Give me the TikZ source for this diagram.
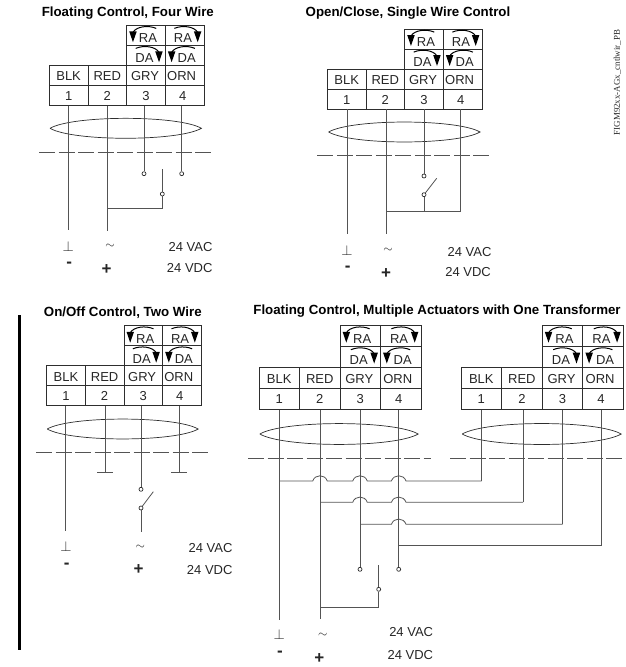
\documentclass[tikz,border=0pt]{standalone}
\usepackage{fontspec}
\setmainfont{Liberation Sans}
\newfontfamily\figfont{Liberation Serif}
\definecolor{wirecol}{gray}{0.33}
\definecolor{boxcol}{gray}{0.18}
\definecolor{inkcol}{gray}{0.15}
\tikzset{
	cellbox/.style={draw=boxcol,line width=0.8pt,inner sep=0pt,text=inkcol,font=\fontsize{13}{13}\selectfont},
	cable/.style={inner sep=0pt},
	cableline/.style={draw=boxcol,line width=0.7pt},
	cableup/.style={out=30,in=150,looseness=.45},
	cabledn/.style={out=-150,in=-30,looseness=.45},
	wire/.style={draw=wirecol,line width=0.8pt},
	sepline/.style={draw=wirecol,line width=0.8pt,dash pattern=on 16pt off 3.5pt},
	contact/.style={draw=boxcol,circle,fill=white,line width=0.7pt,inner sep=0pt,minimum size=4pt},
	headtxt/.style={font=\fontsize{13.3}{14}\selectfont\bfseries,text=black,inner sep=0pt},
	signtxt/.style={font=\fontsize{13}{13}\selectfont,text=inkcol,inner sep=0pt},
	gndtxt/.style={font=\fontsize{15}{15}\selectfont,text=inkcol,inner sep=0pt},
	poltxt/.style={font=\fontsize{17}{17}\selectfont\bfseries,text=inkcol,inner sep=0pt},
	ratxt/.style={signtxt,anchor=east},
}
\newcommand{\celltxt}[3]{\smash{\lower#2pt\hbox to 0pt{\hss\hskip#1pt\relax #3\hskip-#1pt\hss}}}
\newcommand{\flowicon}[2]{
	\begin{scope}[shift={(#1)},xscale=#2]
		\fill[black] (3,6.5)--(10.5,6.5)--(6.7,17.3)--cycle;
		\draw[black,line width=1pt] (6.7,7.5) .. controls (10,1.5) and (22,0) .. (30,3.5);
	\end{scope}
}
\newcommand{\wireblock}[5]{
	\foreach \col/\dx/\txt in {1/0/BLK,2/0/RED,3/-1/GRY,4/-3/ORN}
		\node[cellbox,minimum width=#4pt,minimum height=#5pt] (#1n\col) at ({#2+(\col-.5)*#4},{#3+2.5*#5}) {\celltxt{\dx}{5.5}{\txt}};
	\foreach \col/\dx/\txt in {1/0/1,2/0/2,3/0/3,4/-2/4}
		\node[cellbox,minimum width=#4pt,minimum height=#5pt] (#1\col) at ({#2+(\col-.5)*#4},{#3+3.5*#5}) {\celltxt{\dx}{5}{\txt}};
	\node[cellbox,minimum width=#4pt,minimum height=#5pt] (#1ral) at ({#2+2.5*#4},{#3+.5*#5}) {\celltxt{2}{7.3}{RA}};
	\node[cellbox,minimum width=#4pt,minimum height=#5pt] (#1rar) at ({#2+3.5*#4},{#3+.5*#5}) {\celltxt{-1.7}{7.3}{RA}};
	\node[cellbox,minimum width=#4pt,minimum height=#5pt] (#1dal) at ({#2+2.5*#4},{#3+1.5*#5}) {\celltxt{-1.5}{7.5}{DA}};
	\node[cellbox,minimum width=#4pt,minimum height=#5pt] (#1dar) at ({#2+3.5*#4},{#3+1.5*#5}) {\celltxt{2}{7.5}{DA}};
	\flowicon{#1ral.north west}{1}
	\flowicon{#1rar.north east}{-1}
	\flowicon{#1dal.north east}{-1}
	\flowicon{#1dar.north west}{1}
}
\newcommand{\hop}[2]{-- ({#1-7.3},#2) .. controls ({#1-5},{#2-7}) and ({#1+5},{#2-7}) .. ({#1+7.3},#2)}
\begin{document}
\begin{tikzpicture}[x=1pt,y=-1pt]
	\useasboundingbox (0,0) rectangle (626,667);

	\node[headtxt] (atitle) at (127.8,12.7) {Floating Control, Four Wire};
	\wireblock{a}{49.3}{25.3}{38.67}{20}
	\node[cable,minimum width=151pt,minimum height=20pt] (acable) at (125.7,128.3) {};
	\draw[cableline] (acable.west) to[cableup] (acable.east) to[cabledn] (acable.west);
	\coordinate (asepl) at (39,152);
	\coordinate (asepr) at (212.7,152);
	\draw[sepline] (asepl)--(asepr);
	\coordinate (a1e) at (68.3,230);
	\coordinate (a2e) at (107.7,230.7);
	\node[contact] (a3c) at (144,173.7) {};
	\node[contact] (a4c) at (181.7,173.7) {};
	\node[contact] (aswc) at (162.3,194) {};
	\coordinate (aswt) at (162.3,169.3);
	\coordinate (aswb) at (162.3,208.7);
	\draw[wire] (a1.south -| a1e)--(a1e);
	\draw[wire] (a2.south -| a2e)--(a2e);
	\draw[wire] (a3.south -| a3c)--(a3c);
	\draw[wire] (a4.south -| a4c)--(a4c);
	\draw[wire] (aswt)--(aswc);
	\draw[wire] (aswc)--(aswb)--(aswb -| a2e);
	\node[gndtxt] (agnd) at (68.3,246) {$\perp$};
	\node[signtxt] (aac) at (110,246.7) {$\sim$};
	\node[poltxt] (aneg) at (69.3,265) {-};
	\node[poltxt] (apos) at (106.7,270) {+};
	\node[ratxt] (avac) at (212.7,247) {24 VAC};
	\node[ratxt] (avdc) at (212.7,268) {24 VDC};

	\node[headtxt] (btitle) at (408,12.7) {Open/Close, Single Wire Control};
	\wireblock{b}{327.3}{29}{38.67}{20}
	\node[cable,minimum width=151pt,minimum height=21pt] (bcable) at (404.3,132) {};
	\draw[cableline] (bcable.west) to[cableup] (bcable.east) to[cabledn] (bcable.west);
	\coordinate (bsepl) at (317.3,155.3);
	\coordinate (bsepr) at (491.3,155.3);
	\draw[sepline] (bsepl)--(bsepr);
	\coordinate (b1e) at (347,234);
	\coordinate (b2e) at (386,234);
	\node[contact] (b3c) at (424,176) {};
	\node[contact] (bswc) at (424,194.7) {};
	\coordinate (bswt) at (436.7,178.3);
	\coordinate (bjoin) at (424,211.7);
	\coordinate (b4e) at (460.7,211.7);
	\draw[wire] (b1.south -| b1e)--(b1e);
	\draw[wire] (b2.south -| b2e)--(b2e);
	\draw[wire] (b3.south -| b3c)--(b3c);
	\draw[wire] (b4.south -| b4e)--(b4e)--(b4e -| b2e);
	\draw[wire] (bswc)--(bswt);
	\draw[wire] (bswc)--(bjoin);
	\node[gndtxt] (bgnd) at (347,250) {$\perp$};
	\node[signtxt] (bac) at (388,250.7) {$\sim$};
	\node[poltxt] (bneg) at (347.7,269) {-};
	\node[poltxt] (bpos) at (386,273.3) {+};
	\node[ratxt] (bvac) at (491.7,251.7) {24 VAC};
	\node[ratxt] (bvdc) at (491,272.3) {24 VDC};

	\node[headtxt] (ctitle) at (122.8,312.7) {On/Off Control, Two Wire};
	\wireblock{c}{46.7}{325.7}{38.6}{20}
	\node[cable,minimum width=150.6pt,minimum height=20pt] (ccable) at (122.7,429) {};
	\draw[cableline] (ccable.west) to[cableup] (ccable.east) to[cabledn] (ccable.west);
	\coordinate (csepl) at (36,452);
	\coordinate (csepr) at (210,452);
	\draw[sepline] (csepl)--(csepr);
	\coordinate (c1e) at (65.7,530.7);
	\coordinate (c2e) at (105,472.7);
	\coordinate (c4e) at (179,472.7);
	\node[contact] (c3c) at (141,489.3) {};
	\node[contact] (cswc) at (141,508) {};
	\coordinate (cswt) at (153.3,491.7);
	\coordinate (c3e) at (141,531.7);
	\draw[wire] (c1.south -| c1e)--(c1e);
	\draw[wire] (c2.south -| c2e)--(c2e);
	\draw[wire] (c4.south -| c4e)--(c4e);
	\draw[wire] (c3.south -| c3c)--(c3c);
	\draw[wire] ([xshift=-7.7pt]c2e)--([xshift=7.7pt]c2e);
	\draw[wire] ([xshift=-7.7pt]c4e)--([xshift=7.7pt]c4e);
	\draw[wire] (cswc)--(cswt);
	\draw[wire] (cswc)--(c3e);
	\node[gndtxt] (cgnd) at (66,546.6) {$\perp$};
	\node[signtxt] (cac) at (140.3,547.3) {$\sim$};
	\node[poltxt] (cneg) at (66.7,565.7) {-};
	\node[poltxt] (cpos) at (138.7,570) {+};
	\node[ratxt] (cvac) at (232.7,547.7) {24 VAC};
	\node[ratxt] (cvdc) at (232.7,570) {24 VDC};

	\node[headtxt] (dtitle) at (437,310.7) {Floating Control, Multiple Actuators with One Transformer};
	\wireblock{d}{259}{325.7}{40.5}{20.9}
	\wireblock{e}{461}{325.7}{40.6}{20.9}
	\node[cable,minimum width=158pt,minimum height=21pt] (dcable) at (339,434) {};
	\node[cable,minimum width=158.6pt,minimum height=21pt] (ecable) at (541.7,434) {};
	\draw[cableline] (dcable.west) to[cableup] (dcable.east) to[cabledn] (dcable.west);
	\draw[cableline] (ecable.west) to[cableup] (ecable.east) to[cabledn] (ecable.west);
	\coordinate (dsepl) at (248,458.7);
	\coordinate (dsepr) at (431.3,458.7);
	\coordinate (esepl) at (450,458.7);
	\coordinate (esepr) at (626,458.7);
	\draw[sepline] (dsepl)--(dsepr);
	\draw[sepline] (esepl)--(esepr);
	\coordinate (d1e) at (279.3,620);
	\coordinate (d2e) at (320,619);
	\node[contact] (d3c) at (360,569.3) {};
	\node[contact] (d4c) at (398.7,569.3) {};
	\node[contact] (dswc) at (378.7,589.3) {};
	\coordinate (dswt) at (378.7,565);
	\coordinate (dswb) at (378.7,607);
	\draw[wire] (d1.south -| d1e)--(d1e);
	\draw[wire] (d2.south -| d2e)--(d2e);
	\draw[wire] (d3.south -| d3c)--(d3c);
	\draw[wire] (d4.south -| d4c)--(d4c);
	\draw[wire] (dswt)--(dswc);
	\draw[wire] (dswc)--(dswb)--(dswb -| d2e);
	\coordinate (e1e) at (481.7,481);
	\coordinate (e2e) at (523,502.3);
	\coordinate (e3e) at (562.7,524.3);
	\coordinate (e4e) at (601.7,545.7);
	\draw[wire] (e1.south -| e1e)--(e1e);
	\draw[wire] (e2.south -| e2e)--(e2e);
	\draw[wire] (e3.south -| e3e)--(e3e);
	\draw[wire] (e4.south -| e4e)--(e4e);
	\draw[wire] (e1e -| d1e) \hop{320}{481} \hop{360}{481} \hop{398.7}{481} -- (e1e);
	\draw[wire] (e2e -| d2e) \hop{360}{502.3} \hop{398.7}{502.3} -- (e2e);
	\draw[wire] (e3e -| d3c) \hop{398.7}{524.3} -- (e3e);
	\draw[wire] (e4e)--(e4e -| d4c);
	\node[gndtxt] (dgnd) at (279.3,634.3) {$\perp$};
	\node[signtxt] (dac) at (322.7,635.7) {$\sim$};
	\node[poltxt] (dneg) at (280,654) {-};
	\node[poltxt] (dpos) at (319.3,659) {+};
	\node[ratxt] (dvac) at (433.3,632.3) {24 VAC};
	\node[ratxt] (dvdc) at (433.3,655) {24 VDC};

	\fill[black] (17.7,315) rectangle (20.7,650);
	\node[rotate=90,inner sep=0pt,text=inkcol,font=\fontsize{8.9}{9}\figfont] (figid) at (617.3,82.5) {FIGM92xx-AGx\_cntlwir\_PB};
\end{tikzpicture}
\end{document}
